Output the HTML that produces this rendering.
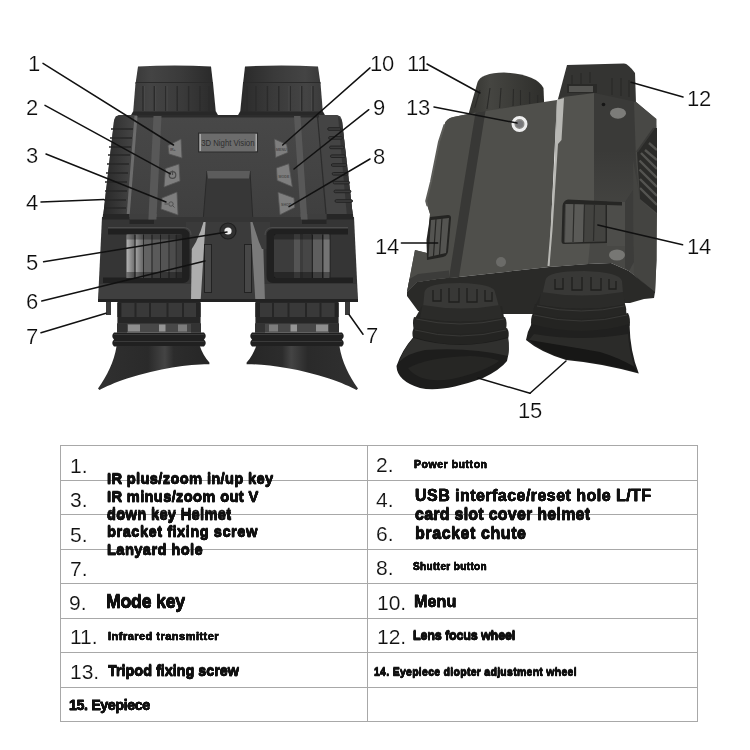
<!DOCTYPE html>
<html><head><meta charset="utf-8">
<style>
html,body{margin:0;padding:0;background:#fff;}
body{width:750px;height:750px;position:relative;overflow:hidden;font-family:"Liberation Sans",sans-serif;color:#111;}
#art{position:absolute;left:0;top:0;width:750px;height:750px;}
.n{position:absolute;font-size:22px;line-height:24px;color:#0c0c0c;-webkit-text-stroke:0.22px #fff;white-space:nowrap;letter-spacing:-0.3px;}
.tn{position:absolute;font-size:21px;line-height:24px;color:#111;-webkit-text-stroke:0.15px #fff;white-space:nowrap;}
.t{position:absolute;font-weight:bold;color:#111;white-space:nowrap;-webkit-text-stroke:0.3px #111;}
.n,.tn,.t{will-change:transform;}
.hl{position:absolute;height:1px;background:#a8a8a8;left:60px;width:637px;}
.vl{position:absolute;width:1px;background:#a8a8a8;top:445px;height:277px;}
</style></head><body>
<svg id="art" viewBox="0 0 750 750">
<!--LEFT-->
<g id="left">
<defs>
<linearGradient id="gLens" x1="0" x2="1" y1="0" y2="0">
<stop offset="0" stop-color="#3a3a3a"/><stop offset=".2" stop-color="#444"/><stop offset=".6" stop-color="#3a3a3a"/><stop offset="1" stop-color="#2a2a2a"/>
</linearGradient>
<linearGradient id="gBody" x1="0" x2="0" y1="0" y2="1">
<stop offset="0" stop-color="#484848"/><stop offset="1" stop-color="#3f3f3f"/>
</linearGradient>
<linearGradient id="gRibL" x1="0" x2="1" y1="0" y2="0"><stop offset="0" stop-color="#282828"/><stop offset="1" stop-color="#484848"/></linearGradient>
<linearGradient id="gRibR" x1="1" x2="0" y1="0" y2="0"><stop offset="0" stop-color="#282828"/><stop offset="1" stop-color="#484848"/></linearGradient>
<linearGradient id="gWheel" x1="0" x2="1" y1="0" y2="0">
<stop offset="0" stop-color="#8a8a8a"/><stop offset=".12" stop-color="#4a4a4a"/><stop offset=".2" stop-color="#9a9a9a"/><stop offset=".3" stop-color="#555"/><stop offset=".45" stop-color="#666"/><stop offset=".6" stop-color="#4c4c4c"/><stop offset=".8" stop-color="#555"/><stop offset="1" stop-color="#333"/>
</linearGradient>
<linearGradient id="gCup" x1="0" x2="1" y1="0" y2="0">
<stop offset="0" stop-color="#303030"/><stop offset=".45" stop-color="#2a2a2a"/><stop offset=".6" stop-color="#444"/><stop offset=".68" stop-color="#2c2c2c"/><stop offset="1" stop-color="#262626"/>
</linearGradient>
<g id="halfL">
<!-- lens -->
<path d="M138 66.5 Q175 64.5 211 66.5 L213 84 L135.5 84 Z" fill="url(#gLens)"/><path d="M135.5 82.5 H213" stroke="#2a2a2a" stroke-width="1"/>
<path d="M135.5 83 L213 83 L216 114 L133 114 Z" fill="url(#gLens)"/>
<g stroke="#2b2b2b" stroke-width="1.4"><path d="M143 86V111M154.3 86V111M165.7 86V111M177.2 86V111M188.6 86V111M200 86V111M209 86V111"/></g>
<g stroke="#4a4a4a" stroke-width="1"><path d="M144.4 86V111M155.700 86V111M167 86V111"/></g>
<path d="M133 111.500 H216 L218.500 116 H130.500 Z" fill="#282828"/>
<!-- eyepiece -->
<rect x="117.400" y="300" width="83.200" height="24" fill="#262626"/>
<g fill="#393939"><rect x="119" y="303" width="15.500" height="14"/><rect x="136.500" y="303" width="12.500" height="14"/><rect x="151" y="303" width="15.500" height="14"/><rect x="168.500" y="303" width="13.500" height="14"/><rect x="184" y="303" width="15" height="14"/></g>
<rect x="117.400" y="303" width="4" height="14" fill="#222"/><rect x="196" y="303" width="4.600" height="14" fill="#242424"/>
<rect x="117" y="323.500" width="84" height="9" fill="#484848"/>
<rect x="117" y="323.500" width="10" height="9" fill="#303030"/><rect x="191" y="323.500" width="10" height="9" fill="#333"/>
<rect x="128" y="324.500" width="12" height="7" fill="#8e8e8e"/><rect x="159" y="324.500" width="6.500" height="7" fill="#959595"/><rect x="178" y="324.500" width="9" height="7" fill="#7c7c7c"/>
<path d="M114 332.500 Q110.500 336 114 339.500 Q110.500 343 114 346.500 L204 346.500 Q207.500 343 204 339.500 Q207.500 336 204 332.500 Z" fill="#202020"/>
<path d="M114 334.500 H204M114 341.500 H204" stroke="#3a3a3a" stroke-width="1.200"/>
<path d="M116.600 346 L199.800 346 C202 352 205 358 209.400 362.500 L209.400 364.200 C190 364 160 368 127 378.500 C115 382.500 105 387 99.500 390 L98 388.500 C107 376 114 362 116.600 346 Z" fill="url(#gCup)"/>
<!-- lanyard peg -->
<rect x="106" y="300" width="5" height="15" fill="#3a3a3a"/>
</g>
</defs>
<use href="#halfL"/>
<use href="#halfL" transform="translate(456 0) scale(-1 1)"/>
<!-- upper body -->
<path d="M121 115 H335 Q341 115 342 121 L353 217 H103 L114 121 Q115 115 121 115 Z" fill="url(#gBody)"/>
<path d="M121 115 H335 Q339 115 341 117.500 H115 Q117 115 121 115 Z" fill="#2c2c2c"/>
<!-- side ribbed panels -->
<path d="M121 115 H137 L129 217 H103 L114 121 Q115 115 121 115 Z" fill="url(#gRibL)"/>
<path d="M335 115 H319 L327 217 H353 L342 121 Q341 115 335 115 Z" fill="#444"/><path d="M338 116 L342 121 L353 217 L347 217 Z" fill="#343434"/>
<g stroke="#272727" stroke-width="1.3"><path d="M111 129h22M110 138h22M109 147h22M108 155h22M107 164h22M106 173h22M105 182h22M105 191h22M104 200h22M104 208h22"/>
</g>
<g fill="#3c3c3c" stroke="#242424" stroke-width="1"><rect x="327.7" y="127.7" width="13.3" height="2.600" rx="1.300"/><rect x="328.6" y="136.6" width="13.8" height="2.600" rx="1.300"/><rect x="329.6" y="146.1" width="14.4" height="2.600" rx="1.300"/><rect x="330.5" y="154.9" width="14.9" height="2.600" rx="1.300"/><rect x="331.4" y="163.7" width="15.4" height="2.600" rx="1.300"/><rect x="332.2" y="172.5" width="15.9" height="2.600" rx="1.300"/><rect x="333.1" y="181.3" width="16.4" height="2.600" rx="1.300"/><rect x="334.0" y="190.1" width="16.9" height="2.600" rx="1.300"/><rect x="335.0" y="199.7" width="17.5" height="2.600" rx="1.300"/></g>
<path d="M134.5 116 L137.5 116 L129.5 217 L126.5 217 Z" fill="#6c6c6c"/>
<path d="M317.500 116 L326.300 217" stroke="#2c2c2c" stroke-width="1.200"/>
<path d="M153.500 116 H161.500 L156.500 217 H148.500 Z" fill="#585858"/>
<path d="M300.500 116 H294 L300.700 217 H307.200 Z" fill="#585858"/>
<!-- label -->
<rect x="198.5" y="133" width="59" height="19" fill="#6c6c6c" stroke="#2c2c2c" stroke-width="1"/><rect x="199.5" y="134" width="1.5" height="17" fill="#a8a8a8"/><rect x="255.5" y="134" width="1.5" height="17" fill="#a8a8a8"/>
<text x="201.200" y="145.700" font-family="Liberation Sans, sans-serif" font-size="8.200" fill="#2e2e2e" textLength="53.300" lengthAdjust="spacingAndGlyphs">3D Night Vision</text>
<!-- buttons -->
<g fill="#7e7e7e" stroke="#555" stroke-width=".8" stroke-linejoin="round">
<path id="b1" d="M168 145.500 L181 139 L182 158 L169 154 Z"/>
<path id="b2" d="M165.500 168.500 L179 164 L180 181 L164 187 Z"/>
<path id="b3" d="M162 198 L177 192 L178 215 L161 209 Z"/>
<path d="M274.500 139 L286.700 144.500 L287.800 152.500 L275.700 157.500 Z"/>
<path d="M276.500 168 L288.800 163.700 L292.300 186.800 L277.200 180.400 Z"/>
<path d="M278 192.200 L294 198 L294.600 207.500 L280 214.800 Z"/>
</g>
<circle cx="172.500" cy="175" r="3.300" fill="none" stroke="#4a4a4a" stroke-width="1.200"/><path d="M172.500 170.500V175" stroke="#4a4a4a" stroke-width="1.200"/>
<g font-family="Liberation Sans, sans-serif" font-size="3.600" fill="#4c4c4c" font-weight="bold"><text x="276" y="150.500">MENU</text><text x="278.500" y="177.500">MODE</text><text x="281" y="205.500">SHOT</text><text x="170" y="151">IR+</text></g>
<circle cx="171" cy="204" r="2.200" fill="none" stroke="#4c4c4c" stroke-width=".9"/><path d="M172.600 205.600 L174.500 207.500M164.500 204 H168" stroke="#4c4c4c" stroke-width=".9"/>
<!-- center hood -->
<path d="M207 171 H250 L253 222 H203 Z" fill="#373737"/><path d="M207 171 L203 222 M250 171 L253 222" stroke="#2a2a2a" stroke-width="1"/>
<path d="M207 171 H250 L249 178.500 H208 Z" fill="#5c5c5c"/>
<!-- lower body -->
<path d="M102 217 H354 L358 301 H98 Z" fill="#353535"/>
<path d="M103 214 H129.500 V219 H154 V224 H129.500 V219.500 H102.500 Z" fill="#262626"/><path d="M129.500 214 H154 V219.500 H129.500 Z" fill="#3e3e3e"/><path d="M148.700 214 H156.700 L156.400 219.500 H148.400 Z" fill="#585858"/>
<path d="M353 214 H326.500 V219 H302 V224 H326.500 V219.500 H353.500 Z" fill="#262626"/><path d="M326.500 214 H302 V219.500 H326.500 Z" fill="#3e3e3e"/><path d="M307.300 214 H300.600 L300.900 219.500 H307.600 Z" fill="#585858"/>
<path d="M99.500 284 H356.500 L357.500 299 H98.500 Z" fill="#3f3f3f"/>
<!-- center panel -->
<path d="M205 222 H251 L256 301 H200 Z" fill="#3b3b3b"/>
<path d="M192.200 222 L205.600 222 L200.600 301 L191 301 Z" fill="#adadad"/>
<path d="M186 222 L203.500 222 L200.600 231 L196 242 L191.800 249 L186 249 Z" fill="#3a3a3a"/>
<path d="M262.500 222 L250.400 222 L255.400 301 L265 301 Z" fill="#7a7a7a"/>
<path d="M270 222 L252.500 222 L255.400 231 L259 242 L262 249 L270 249 Z" fill="#3a3a3a"/>
<!-- wheel recesses -->
<linearGradient id="ws1" x1="0" x2="1" y1="0" y2="0"><stop offset="0" stop-color="#b4b4b4"/><stop offset="1" stop-color="#6e6e6e"/></linearGradient>
<linearGradient id="ws2" x1="0" x2="1" y1="0" y2="0"><stop offset="0" stop-color="#a2a2a2"/><stop offset="1" stop-color="#666"/></linearGradient>
<path d="M108 229 H183 Q189.500 229 189.500 235.500 V276 Q189.500 283 183 283 H103 V277.500 H126 V234.500 H108 Z" fill="#202020"/>
<path d="M108 227.500 H184 Q191 228 191 235" stroke="#4c4c4c" stroke-width="1" fill="none"/>
<rect x="126.500" y="234.500" width="55.500" height="43.500" rx="2" fill="#4c4c4c"/>
<rect x="126.500" y="234.500" width="8" height="43.500" fill="url(#ws1)"/>
<rect x="135.500" y="234.500" width="7.500" height="43.500" fill="url(#ws2)"/>
<rect x="144" y="234.500" width="7.500" height="43.500" fill="#626262"/>
<rect x="152.500" y="234.500" width="7.500" height="43.500" fill="#5a5a5a"/>
<rect x="161" y="234.500" width="7.500" height="43.500" fill="#545454"/>
<rect x="169.500" y="234.500" width="6.500" height="43.500" fill="#4c4c4c"/>
<rect x="176.500" y="234.500" width="5.500" height="43.500" fill="#404040"/>
<g stroke="#2a2a2a" stroke-width="1"><path d="M135 235V278M143.500 235V278M152 235V278M160.500 235V278M169 235V278M176.200 235V278"/></g>
<rect x="126.500" y="234.500" width="55.500" height="5" fill="#000" opacity=".3"/><rect x="126.500" y="272" width="55.500" height="6" fill="#000" opacity=".35"/>
<path d="M348 229 H273 Q266.500 229 266.500 235.500 V276 Q266.500 283 273 283 H353 V277.500 H330.500 V234.500 H348 Z" fill="#202020"/>
<path d="M348 227.500 H272 Q265 228 265 235" stroke="#4c4c4c" stroke-width="1" fill="none"/>
<rect x="274" y="234.500" width="56" height="43.500" rx="2" fill="#3c3c3c"/>
<rect x="294" y="234.500" width="6" height="43.500" fill="#545454"/>
<rect x="303" y="234.500" width="8" height="43.500" fill="#464646"/>
<rect x="313" y="234.500" width="9" height="43.500" fill="#5e5e5e"/>
<rect x="323.500" y="234.500" width="6" height="43.500" fill="#747474"/>
<g stroke="#262626" stroke-width="1"><path d="M322.700 235V278M312.500 235V278"/></g>
<rect x="274" y="234.500" width="56" height="5" fill="#000" opacity=".3"/><rect x="274" y="272" width="56" height="6" fill="#000" opacity=".35"/>
<rect x="204.500" y="244.500" width="7" height="48" fill="#474747" stroke="#222" stroke-width="1"/>
<rect x="244.500" y="244.500" width="7" height="48" fill="#474747" stroke="#222" stroke-width="1"/>
<circle cx="228" cy="231" r="8" fill="#303030" stroke="#1f1f1f" stroke-width="1.200"/>
<circle cx="228" cy="231" r="3.600" fill="#eee"/>
<rect x="98" y="299" width="260" height="3" fill="#222"/>
</g>
<!--RIGHT-->
<g id="right">
<defs>
<linearGradient id="rLens" x1="0" x2="1" y1="0" y2="0">
<stop offset="0" stop-color="#33332f"/><stop offset=".3" stop-color="#454541"/><stop offset="1" stop-color="#2e2e2b"/>
</linearGradient>
<linearGradient id="rCup" x1="0" x2="1" y1="0" y2="1">
<stop offset="0" stop-color="#2a2a28"/><stop offset=".5" stop-color="#1e1e1d"/><stop offset="1" stop-color="#262624"/>
</linearGradient>
</defs>
<!-- left lens cylinder -->
<path d="M477.600 82 Q481 73 504 72.500 Q536 74 543.500 88 L544.300 108 L467.500 118 L468.800 113 Z" fill="url(#rLens)"/>
<g stroke="#2a2a28" stroke-width="1.1"><path d="M480 90 L474.700 108M490 88 L487 109M501 88 L499.600 108M513.500 89 L513 106M520.500 90 L520.500 105M529.700 92 L529.700 104M537.700 95 L537.700 103"/></g>
<!-- right lens barrel -->
<path d="M567 65 L624 63.500 Q628 63.500 635 73 L636 103 L558 99 Z" fill="#343432"/>
<g stroke="#262624" stroke-width="1"><path d="M572 75V85M581 73V84M590 72V83M612 78V95M621 78V96M629 80V97"/></g>
<rect x="567" y="84" width="30" height="9" fill="#2a2a28"/><rect x="569" y="86" width="24" height="6" fill="#555552"/>
<!-- body main top face -->
<path d="M444.600 124.500 Q446 118.500 453.400 117 L476 112.500 L557 100 L549 267 L500 272.500 L459 277 L440 278.500 L417 282 L407 292 L415 250 L427 253 L430 214 L427.500 206 L426.200 201 L431 181.800 L439 141.800 Z" fill="#4f4f4b"/>
<!-- left side shading -->
<path d="M444.600 124.500 Q446 118.500 453.400 117 L476 112.500 L463 190 L450 277.500 L440 278.500 L417 282 L407 292 L415 250 L427 253 L430 214 L427.500 206 L426.200 201 L431 181.800 L439 141.800 Z" fill="#4d4d49"/><path d="M444.600 124.500 L439 141.800 L431 181.800 L426.200 201 L427.500 206" stroke="#5c5c58" stroke-width="2" fill="none"/>
<!-- groove -->
<path d="M475.500 112.500 L485.500 111 L472 195 L459 277 L449 278 L462 195 Z" fill="#383836"/>
<!-- right housing -->
<path d="M557 100 L563 97 L594.500 93 L594.500 200 L589 264 L549 267 L554 190 Z" fill="#53534f"/>
<linearGradient id="rMid" x1="0" x2="0" y1="150" y2="235" gradientUnits="userSpaceOnUse"><stop offset="0" stop-color="#3a3a38"/><stop offset="1" stop-color="#484845"/></linearGradient>
<path d="M594 93 L636 102 L656 119 L656.500 260 L655 293 L629 271 L611 263 L588 264 L594 200 Z" fill="url(#rMid)"/>
<path d="M607 201 L625 202 L625 246 L607 246 Z" fill="#4d4d4a"/>
<path d="M625 202 L633 190 L634 262 L629 271 L625 268 Z" fill="#3c3c3a"/>
<path d="M633 160 L640 199 L657 213 L656.500 260 L655 293 L634 275 Z" fill="#444441"/>
<path d="M634 102 L636 102 L656.500 119 L657 215 L640 200 L636 160 Z" fill="#484845"/>
<!-- vents -->
<path d="M637 152 L654 128 L657 128 L657 213 L640 199 Z" fill="#2b2b29"/>
<clipPath id="cv"><path d="M637 152 L654 128 L657 128 L657 213 L640 199 Z"/></clipPath><g clip-path="url(#cv)" stroke="#545451" stroke-width="2.400"><path d="M641 153 L657 169M639.500 160.500 L657 178M639.500 169.500 L657 187M640 179 L657 196M640 188 L657 205M645 150 L657 160M649 143 L657 150"/></g>
<path d="M637 152 L654 128" stroke="#3a3a38" stroke-width="2"/>
<!-- light stripe -->
<path d="M557 100 L564 98 L561.500 140 L558 144 L552.500 230 L549.500 266 L547.500 266 L550.500 230 L555.500 144 Z" fill="#b8b8b4"/>
<!-- dot + ovals -->
<circle cx="603.500" cy="104.500" r="1.800" fill="#161616"/>
<ellipse cx="618" cy="113.200" rx="8" ry="5.500" fill="#7c7c79"/>
<ellipse cx="617" cy="255" rx="8" ry="5.500" fill="#777774"/>
<circle cx="501" cy="262" r="5" fill="#6b6b68"/>
<!-- screw 13 -->
<circle cx="519.500" cy="124" r="6.500" fill="#8a8a87" stroke="#eeeeee" stroke-width="3"/>
<circle cx="519.500" cy="124" r="3.500" fill="#77777a"/>
<!-- right wheel -->
<path d="M568 199.500 L622 202 L622 205.500 L607 205 L607 243 L564 244 Q561.500 244 561.500 241 L562.500 206 Q563 200.500 568 199.500 Z" fill="#262624"/>
<path d="M565 204 L605.500 205 L605.500 241.500 L564 242.500 Z" fill="#434340"/><path d="M566 204 L584 204.500 L583 242 L565 242.500 Z" fill="#5a5a57"/>
<g stroke="#2c2c2a" stroke-width="1.200"><path d="M574 204 L573 242M584.500 204 L583.500 242M594.500 204 L593.500 241"/></g>
<!-- left wheel -->
<path d="M430 217 L448 215 Q451 215 451 218 L448 252 Q447 256 443 257 L427 260 L426.500 240 Z" fill="#242422"/>
<path d="M431 220 L449 218 L446 253 L428.500 257 Z" fill="#545451"/>
<g stroke="#262624" stroke-width="1.200"><path d="M436 219 L433.500 256M442 218 L439.500 255"/></g>
<!-- front underside -->
<path d="M407 292 L417 282 L440 278.500 L459 277 L500 272.500 L549 267 L588 264 L611 263 L629 271 L655 292 L654 298 L644 299 L630 303 L600 303 L545 314 L500 314 L418 311 L407 296 Z" fill="#2a2a28"/>
<path d="M409.500 279 L418 274 L449 270.500 L449 278 L440 278.500 L417 282 L407 292 Z" fill="#3c3c3a"/>
<!-- left eyepiece -->
<path d="M422 306 L502 306 L508 340 L413 340 L414 320 Z" fill="#262624"/>
<path d="M424.500 292 Q426 283 460 283 Q494 284 495 292 L502 318 L422 318 Z" fill="#383836"/>
<g stroke="#1f1f1e" stroke-width="1.300" fill="none"><path d="M433 290V301H441V289M449 288V302H459V288M467 288V302H477V289M485 290V301H492V292"/></g>
<path d="M422.500 305 Q462 312 500 305 L502.500 318 Q462 325 420 318 Z" fill="#2b2b29"/>
<path d="M414 317 Q412 322 414 329 Q460 340 506 329 Q507.500 322 505 317 Q460 327 414 317 Z" fill="#262624"/>
<path d="M416 319 Q460 329 504 319" stroke="#3a3a38" stroke-width="1" fill="none"/>
<path d="M414 328 Q411 333 413.500 339 Q460 352 508 339 Q510 333 507 328 Q460 340 414 328 Z" fill="#242422"/>
<path d="M415 330 Q460 342 506 330" stroke="#383836" stroke-width="1" fill="none"/>
<path d="M413.500 337 Q402 350 396.500 366 Q397 381 420 388 Q442 393 483 378 Q500 370 507 361 Q510 350 508 337 Q460 352 413.500 337 Z" fill="#1d1d1c"/>
<path d="M413.500 338 Q460 352 508 338 Q509.500 348 508 356 Q470 347 425 350 Q408 353 399 362 Q404 348 413.500 338 Z" fill="#30302e"/>
<path d="M408 368 Q428 357 470 356 Q492 357 499 361 Q484 372 452 379 Q420 384 408 368 Z" fill="#262624"/>
<!-- right eyepiece -->
<path d="M541 294 L623 294 L629 328 L532 328 L534 308 Z" fill="#262624"/>
<path d="M545.500 280 Q547 271 584 271 Q620 272 622 281 L624 305 L540 305 Z" fill="#383836"/>
<g stroke="#1f1f1e" stroke-width="1.300" fill="none"><path d="M555 279V289H563V278M572 277V290H582V277M591 277V290H601V278M609 279V289H616V281"/></g>
<path d="M541 292 Q582 299 623 292 L625 305 Q582 312 539 305 Z" fill="#2b2b29"/>
<path d="M535 304 Q533 309 534 314 Q582 326 626 314 Q627 309 625 304 Q582 314 535 304 Z" fill="#262624"/>
<path d="M537 306 Q582 316 624 306" stroke="#3a3a38" stroke-width="1" fill="none"/>
<path d="M533 313 Q530 319 531.500 326 Q582 338 629.500 326 Q631 319 628 313 Q582 325 533 313 Z" fill="#242422"/>
<path d="M534 315 Q582 327 627 315" stroke="#383836" stroke-width="1" fill="none"/>
<path d="M531.500 324 Q527 332 526 340 Q540 352 566 360 Q600 363 638.800 373.500 Q630 352 629.500 324 Q582 338 531.500 324 Z" fill="#20201f"/>
<path d="M534 334 Q580 342 628 334 Q629 350 634 366 Q600 350 560 346 Q540 344 529 340 Z" fill="#2b2b29"/>
<path d="M529 340 Q560 345 600 352 Q620 358 634 367 L637 372 Q600 362 566 359 Q542 352 529 340 Z" fill="#171716"/>
</g>
<!--LINES-->
<g id="lines" stroke="#111" stroke-width="1.5" fill="none" stroke-linecap="round">
<path d="M43 63.3 L173.5 145"/>
<path d="M45 105.4 L170.3 173.8"/>
<path d="M46 154 L166 202"/>
<path d="M41 202 L104 199.6"/>
<path d="M43.6 261.8 L227 232"/>
<path d="M41.8 301 L205 261"/>
<path d="M41 332.7 L106 313.2"/>
<path d="M370 67.9 L282.7 145"/>
<path d="M368.8 109.7 L294 169"/>
<path d="M370 159 L289 206.7"/>
<path d="M363 334.3 L349 314.5"/>
<path d="M427 64 L480 93"/>
<path d="M434 107 L517 123"/>
<path d="M683 97 L631 82.2"/>
<path d="M401.4 243 L437.7 243"/>
<path d="M682.6 244.8 L597.8 225"/>
<path d="M530 393.3 L478 378"/>
<path d="M530 393.3 L566 361"/>
</g>
</svg>
<!--NUMS-->
<div class="n" id="n0" style="left:28.4px;top:51.8px">1</div>
<div class="n" id="n1" style="left:26.4px;top:96.1px">2</div>
<div class="n" id="n2" style="left:26.4px;top:143.8px">3</div>
<div class="n" id="n3" style="left:25.9px;top:191.1px">4</div>
<div class="n" id="n4" style="left:26.4px;top:250.8px">5</div>
<div class="n" id="n5" style="left:26.4px;top:289.6px">6</div>
<div class="n" id="n6" style="left:26.4px;top:324.5px">7</div>
<div class="n" id="n7" style="left:369.8px;top:51.8px">10</div>
<div class="n" id="n8" style="left:372.9px;top:96.4px">9</div>
<div class="n" id="n9" style="left:372.9px;top:144.5px">8</div>
<div class="n" id="n10" style="left:366.0px;top:324.1px">7</div>
<div class="n" id="n11" style="left:406.5px;top:51.8px">11</div>
<div class="n" id="n12" style="left:406.1px;top:96.4px">13</div>
<div class="n" id="n13" style="left:686.5px;top:86.7px">12</div>
<div class="n" id="n14" style="left:375.4px;top:234.6px">14</div>
<div class="n" id="n15" style="left:686.5px;top:234.5px">14</div>
<div class="n" id="n16" style="left:517.5px;top:398.8px">15</div>
<!--TABLE-->
<div class="hl" style="top:445px"></div>
<div class="hl" style="top:480px"></div>
<div class="hl" style="top:514px"></div>
<div class="hl" style="top:549px"></div>
<div class="hl" style="top:583px"></div>
<div class="hl" style="top:618px"></div>
<div class="hl" style="top:652px"></div>
<div class="hl" style="top:687px"></div>
<div class="hl" style="top:721px"></div>
<div class="vl" style="left:60px"></div>
<div class="vl" style="left:367px"></div>
<div class="vl" style="left:697px"></div>
<div class="t" style="left:106.7px;top:470.1px;font-size:14.7px;line-height:17.64px;letter-spacing:0.34px">IR plus/zoom in/up key</div>
<div class="t" style="left:106.7px;top:487.8px;font-size:14.7px;line-height:17.64px;letter-spacing:0.33px">IR minus/zoom out V</div>
<div class="t" style="left:106.7px;top:505.4px;font-size:14.7px;line-height:17.64px;letter-spacing:0.30px">down key Helmet</div>
<div class="t" style="left:106.7px;top:523.1px;font-size:14.7px;line-height:17.64px;letter-spacing:0.48px">bracket fixing screw</div>
<div class="t" style="left:106.7px;top:541.1px;font-size:14.7px;line-height:17.64px;letter-spacing:0.39px">Lanyard hole</div>
<div class="t" style="left:105.8px;top:591.4px;font-size:17.7px;line-height:21.24px;letter-spacing:-0.21px">Mode key</div>
<div class="t" style="left:108.2px;top:629.6px;font-size:11px;line-height:13.2px;letter-spacing:0.48px">Infrared transmitter</div>
<div class="t" style="left:108.2px;top:662.1px;font-size:14.4px;line-height:17.28px;letter-spacing:-0.01px">Tripod fixing screw</div>
<div class="t" style="left:69.0px;top:696.5px;font-size:14.3px;line-height:17.16px;letter-spacing:-0.42px">15. Eyepiece</div>
<div class="t" style="left:413.9px;top:457.7px;font-size:10.5px;line-height:12.6px;letter-spacing:0.54px">Power button</div>
<div class="t" style="left:414.8px;top:485.6px;font-size:16px;line-height:19.2px;letter-spacing:0.46px">USB interface/reset hole L/TF</div>
<div class="t" style="left:414.8px;top:504.3px;font-size:16px;line-height:19.2px;letter-spacing:0.25px">card slot cover helmet</div>
<div class="t" style="left:414.8px;top:523.0px;font-size:16px;line-height:19.2px;letter-spacing:0.58px">bracket chute</div>
<div class="t" style="left:413.2px;top:560.5px;font-size:10px;line-height:12.0px;letter-spacing:0.37px">Shutter button</div>
<div class="t" style="left:413.9px;top:591.6px;font-size:16px;line-height:19.2px;letter-spacing:0.18px">Menu</div>
<div class="t" style="left:413.2px;top:627.9px;font-size:12.6px;line-height:15.12px;letter-spacing:-0.18px">Lens focus wheel</div>
<div class="t" style="left:374.2px;top:665.1px;font-size:10.5px;line-height:12.6px;letter-spacing:0.28px">14. Eyepiece diopter adjustment wheel</div>
<div class="t" style="left:106.7px;top:470.6px;font-size:14.7px;line-height:17.64px;letter-spacing:0.34px">IR plus/zoom in/up key</div>
<div class="t" style="left:106.7px;top:488.6px;font-size:14.7px;line-height:17.64px;letter-spacing:0.33px">IR minus/zoom out V</div>
<div class="t" style="left:106.7px;top:506.5px;font-size:14.7px;line-height:17.64px;letter-spacing:0.30px">down key Helmet</div>
<div class="t" style="left:106.7px;top:524.4px;font-size:14.7px;line-height:17.64px;letter-spacing:0.48px">bracket fixing screw</div>
<div class="t" style="left:106.7px;top:542.3px;font-size:14.7px;line-height:17.64px;letter-spacing:0.39px">Lanyard hole</div>
<div class="t" style="left:105.8px;top:592.1px;font-size:17.7px;line-height:21.24px;letter-spacing:-0.21px">Mode key</div>
<div class="t" style="left:108.2px;top:630.3px;font-size:11px;line-height:13.2px;letter-spacing:0.48px">Infrared transmitter</div>
<div class="t" style="left:108.2px;top:662.8px;font-size:14.4px;line-height:17.28px;letter-spacing:-0.01px">Tripod fixing screw</div>
<div class="t" style="left:69.0px;top:697.2px;font-size:14.3px;line-height:17.16px;letter-spacing:-0.42px">15. Eyepiece</div>
<div class="t" style="left:413.9px;top:458.4px;font-size:10.5px;line-height:12.6px;letter-spacing:0.54px">Power button</div>
<div class="t" style="left:414.8px;top:486.3px;font-size:16px;line-height:19.2px;letter-spacing:0.46px">USB interface/reset hole L/TF</div>
<div class="t" style="left:414.8px;top:505.0px;font-size:16px;line-height:19.2px;letter-spacing:0.25px">card slot cover helmet</div>
<div class="t" style="left:414.8px;top:523.7px;font-size:16px;line-height:19.2px;letter-spacing:0.58px">bracket chute</div>
<div class="t" style="left:413.2px;top:561.2px;font-size:10px;line-height:12.0px;letter-spacing:0.37px">Shutter button</div>
<div class="t" style="left:413.9px;top:592.3px;font-size:16px;line-height:19.2px;letter-spacing:0.18px">Menu</div>
<div class="t" style="left:413.2px;top:628.6px;font-size:12.6px;line-height:15.12px;letter-spacing:-0.18px">Lens focus wheel</div>
<div class="t" style="left:374.2px;top:665.8px;font-size:10.5px;line-height:12.6px;letter-spacing:0.28px">14. Eyepiece diopter adjustment wheel</div>
<div class="t" style="left:106.7px;top:470.6px;font-size:14.7px;line-height:17.64px;letter-spacing:0.34px;-webkit-text-stroke-width:0.3px">IR plus/zoom in/up key</div>
<div class="t" style="left:106.7px;top:488.6px;font-size:14.7px;line-height:17.64px;letter-spacing:0.33px;-webkit-text-stroke-width:0.3px">IR minus/zoom out V</div>
<div class="t" style="left:106.7px;top:506.5px;font-size:14.7px;line-height:17.64px;letter-spacing:0.30px;-webkit-text-stroke-width:0.3px">down key Helmet</div>
<div class="t" style="left:106.7px;top:524.4px;font-size:14.7px;line-height:17.64px;letter-spacing:0.48px;-webkit-text-stroke-width:0.3px">bracket fixing screw</div>
<div class="t" style="left:106.7px;top:542.3px;font-size:14.7px;line-height:17.64px;letter-spacing:0.39px;-webkit-text-stroke-width:0.3px">Lanyard hole</div>
<div class="t" style="left:105.8px;top:592.1px;font-size:17.7px;line-height:21.24px;letter-spacing:-0.21px;-webkit-text-stroke-width:0.3px">Mode key</div>
<div class="t" style="left:108.2px;top:630.3px;font-size:11px;line-height:13.2px;letter-spacing:0.48px;-webkit-text-stroke-width:0.15px">Infrared transmitter</div>
<div class="t" style="left:108.2px;top:662.8px;font-size:14.4px;line-height:17.28px;letter-spacing:-0.01px;-webkit-text-stroke-width:0.3px">Tripod fixing screw</div>
<div class="t" style="left:69.0px;top:697.2px;font-size:14.3px;line-height:17.16px;letter-spacing:-0.42px;-webkit-text-stroke-width:0.3px">15. Eyepiece</div>
<div class="t" style="left:413.9px;top:458.4px;font-size:10.5px;line-height:12.6px;letter-spacing:0.54px;-webkit-text-stroke-width:0.15px">Power button</div>
<div class="t" style="left:414.8px;top:486.3px;font-size:16px;line-height:19.2px;letter-spacing:0.46px;-webkit-text-stroke-width:0.3px">USB interface/reset hole L/TF</div>
<div class="t" style="left:414.8px;top:505.0px;font-size:16px;line-height:19.2px;letter-spacing:0.25px;-webkit-text-stroke-width:0.3px">card slot cover helmet</div>
<div class="t" style="left:414.8px;top:523.7px;font-size:16px;line-height:19.2px;letter-spacing:0.58px;-webkit-text-stroke-width:0.3px">bracket chute</div>
<div class="t" style="left:413.2px;top:561.2px;font-size:10px;line-height:12.0px;letter-spacing:0.37px;-webkit-text-stroke-width:0.15px">Shutter button</div>
<div class="t" style="left:413.9px;top:592.3px;font-size:16px;line-height:19.2px;letter-spacing:0.18px;-webkit-text-stroke-width:0.3px">Menu</div>
<div class="t" style="left:413.2px;top:628.6px;font-size:12.6px;line-height:15.12px;letter-spacing:-0.18px;-webkit-text-stroke-width:0.25px">Lens focus wheel</div>
<div class="t" style="left:374.2px;top:665.8px;font-size:10.5px;line-height:12.6px;letter-spacing:0.28px;-webkit-text-stroke-width:0.15px">14. Eyepiece diopter adjustment wheel</div>
<div class="t" style="left:106.7px;top:470.6px;font-size:14.7px;line-height:17.64px;letter-spacing:0.34px;-webkit-text-stroke-width:0.2px">IR plus/zoom in/up key</div>
<div class="t" style="left:106.7px;top:488.6px;font-size:14.7px;line-height:17.64px;letter-spacing:0.33px;-webkit-text-stroke-width:0.2px">IR minus/zoom out V</div>
<div class="t" style="left:106.7px;top:506.5px;font-size:14.7px;line-height:17.64px;letter-spacing:0.30px;-webkit-text-stroke-width:0.2px">down key Helmet</div>
<div class="t" style="left:106.7px;top:524.4px;font-size:14.7px;line-height:17.64px;letter-spacing:0.48px;-webkit-text-stroke-width:0.2px">bracket fixing screw</div>
<div class="t" style="left:106.7px;top:542.3px;font-size:14.7px;line-height:17.64px;letter-spacing:0.39px;-webkit-text-stroke-width:0.2px">Lanyard hole</div>
<div class="t" style="left:105.8px;top:592.1px;font-size:17.7px;line-height:21.24px;letter-spacing:-0.21px;-webkit-text-stroke-width:0.2px">Mode key</div>
<div class="t" style="left:108.2px;top:630.3px;font-size:11px;line-height:13.2px;letter-spacing:0.48px;-webkit-text-stroke-width:0.08px">Infrared transmitter</div>
<div class="t" style="left:108.2px;top:662.8px;font-size:14.4px;line-height:17.28px;letter-spacing:-0.01px;-webkit-text-stroke-width:0.2px">Tripod fixing screw</div>
<div class="t" style="left:69.0px;top:697.2px;font-size:14.3px;line-height:17.16px;letter-spacing:-0.42px;-webkit-text-stroke-width:0.2px">15. Eyepiece</div>
<div class="t" style="left:413.9px;top:458.4px;font-size:10.5px;line-height:12.6px;letter-spacing:0.54px;-webkit-text-stroke-width:0.08px">Power button</div>
<div class="t" style="left:414.8px;top:486.3px;font-size:16px;line-height:19.2px;letter-spacing:0.46px;-webkit-text-stroke-width:0.2px">USB interface/reset hole L/TF</div>
<div class="t" style="left:414.8px;top:505.0px;font-size:16px;line-height:19.2px;letter-spacing:0.25px;-webkit-text-stroke-width:0.2px">card slot cover helmet</div>
<div class="t" style="left:414.8px;top:523.7px;font-size:16px;line-height:19.2px;letter-spacing:0.58px;-webkit-text-stroke-width:0.2px">bracket chute</div>
<div class="t" style="left:413.2px;top:561.2px;font-size:10px;line-height:12.0px;letter-spacing:0.37px;-webkit-text-stroke-width:0.08px">Shutter button</div>
<div class="t" style="left:413.9px;top:592.3px;font-size:16px;line-height:19.2px;letter-spacing:0.18px;-webkit-text-stroke-width:0.2px">Menu</div>
<div class="t" style="left:413.2px;top:628.6px;font-size:12.6px;line-height:15.12px;letter-spacing:-0.18px;-webkit-text-stroke-width:0.15px">Lens focus wheel</div>
<div class="t" style="left:374.2px;top:665.8px;font-size:10.5px;line-height:12.6px;letter-spacing:0.28px;-webkit-text-stroke-width:0.08px">14. Eyepiece diopter adjustment wheel</div>
<div class="tn" style="left:70.0px;top:453.7px">1.</div>
<div class="tn" style="left:70.0px;top:487.9px">3.</div>
<div class="tn" style="left:70.0px;top:522.5px">5.</div>
<div class="tn" style="left:70.0px;top:557.0px">7.</div>
<div class="tn" style="left:69.1px;top:590.7px">9.</div>
<div class="tn" style="left:70.1px;top:625.1px">11.</div>
<div class="tn" style="left:70.1px;top:660.4px">13.</div>
<div class="tn" style="left:376.3px;top:452.9px">2.</div>
<div class="tn" style="left:376.3px;top:487.6px">4.</div>
<div class="tn" style="left:376.3px;top:521.9px">6.</div>
<div class="tn" style="left:376.3px;top:556.2px">8.</div>
<div class="tn" style="left:377.2px;top:590.7px">10.</div>
<div class="tn" style="left:377.2px;top:625.1px">12.</div>
</body></html>
